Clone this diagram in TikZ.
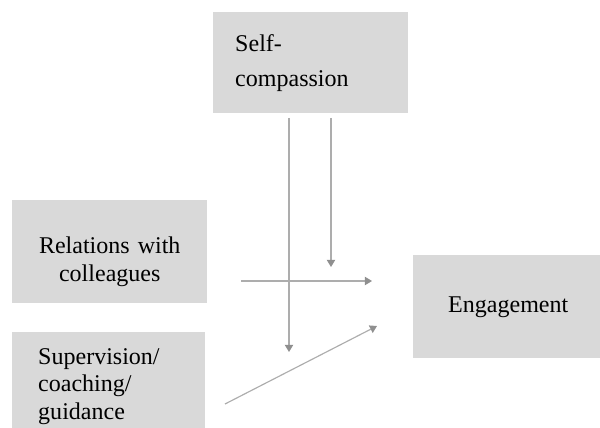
\documentclass[tikz,border=0pt]{standalone}
\usepackage{fontspec}
\setmainfont{Liberation Serif}
\usetikzlibrary{arrows.meta}

\definecolor{boxgray}{HTML}{D9D9D9}
\definecolor{linegray}{HTML}{ADADAD}
\definecolor{tipgray}{HTML}{8F8F8F}

\begin{document}
\begin{tikzpicture} [x=0.03cm, y=-0.03cm, font=\fontsize{20.5}{23.5}\selectfont,
        box/.style={shape=rectangle, fill=boxgray, inner ysep=0pt, anchor=north west},
        link/.style={draw=linegray, line width=1pt, -{Triangle[width=7pt, length=6pt, color=tipgray]}}]
        \clip (0, 0) rectangle (600, 427);
        \node [box, font=\fontsize{20.5}{30}\selectfont, minimum width=5.85cm, minimum height=3.03cm, inner xsep=0.66cm, text width=4.53cm, align=left] (self) at (213, 12) {Self-\\compassion};
        \node [box, minimum width=5.85cm, minimum height=3.09cm, inner xsep=0.3cm, text width=5.25cm, align=center] (rel) at (12, 200) {\rule{0pt}{1.1cm}Relations with\\colleagues};
        \node [box, minimum width=5.79cm, minimum height=3.25cm, inner xsep=0.78cm, text width=4.23cm, align=left] (sup) at (12, 332) {Supervision/\\coaching/\\guidance};
        \node [box, minimum width=5.7cm, minimum height=3.09cm, inner xsep=0.3cm, text width=5.1cm, align=center] (eng) at (413, 255) {Engagement};
        \coordinate (long-top) at (289, 118);
        \coordinate (long-end) at (289, 352);
        \coordinate (short-top) at (331, 118);
        \coordinate (short-end) at (331, 267);
        \coordinate (rel-out) at (241, 281);
        \coordinate (rel-in) at (372, 281);
        \coordinate (sup-out) at (225, 404);
        \coordinate (sup-in) at (377, 326);
        \draw [link] (long-top) -- (long-end);
        \draw [link] (short-top) -- (short-end);
        \draw [link] (rel-out) -- (rel-in);
        \draw [link] (sup-out) -- (sup-in);
    \end{tikzpicture}
\end{document}
